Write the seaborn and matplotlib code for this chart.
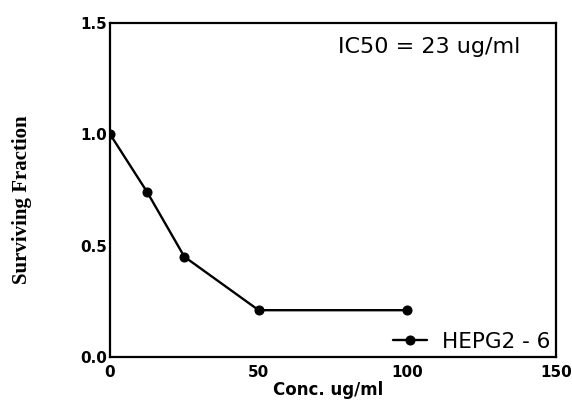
import matplotlib
matplotlib.use("Agg")
from matplotlib import pyplot as plt
import seaborn as sns

# data
conc = [0, 12.5, 25, 50, 100]
surviving = [1.0, 0.74, 0.45, 0.21, 0.21]
series_label = "HEPG2 - 6"
x_ticks = [0, 50, 100, 150]
y_ticks = [0.0, 0.5, 1.0, 1.5]

sns.set_theme(style="white")
plt.rcParams['font.family'] = ['DejaVu Sans']
plt.rcParams['text.color'] = 'black'

fig = plt.figure(figsize=(5.72, 4.01), dpi=100)
ax = fig.add_axes([110 / 572, 1 - 357 / 401, 446 / 572, 334.3 / 401])

sns.lineplot(x=conc, y=surviving, ax=ax, color='black', marker='o',
             markersize=6.5, markeredgecolor='black', linewidth=1.7,
             label=series_label)

ax.set_xlim(0, 150)
ax.set_ylim(0, 1.5)
ax.set_xticks(x_ticks)
ax.set_xticklabels([str(t) for t in x_ticks], fontweight='bold', fontsize=11)
ax.set_yticks(y_ticks)
ax.set_yticklabels([f"{t:.1f}" for t in y_ticks], fontweight='bold', fontsize=11)
ax.tick_params(axis='both', length=0, colors='black')
ax.tick_params(axis='x', pad=6)
ax.tick_params(axis='y', pad=2)

for sp in ax.spines.values():
    sp.set_color('black')
    sp.set_linewidth(1.6)

ax.set_xlabel("Conc. ug/ml", fontweight='bold', fontsize=12, color='black')
ax.xaxis.set_label_coords(0.49, -0.072)
ax.set_ylabel("Surviving Fraction", fontweight='bold', fontsize=15,
              family='Liberation Serif', color='black')
ax.yaxis.set_label_coords(-0.175, 0.47)

ax.text(0.715, 0.928, "IC50 = 23 ug/ml", transform=ax.transAxes,
        ha='center', va='center', fontsize=16, color='black')

ax.legend(loc='lower right', frameon=False, fontsize=15.5, handlelength=1.6,
          handletextpad=0.7, borderaxespad=0.15, borderpad=0.1,
          labelcolor='black')

fig.savefig("out.png", dpi=100)
